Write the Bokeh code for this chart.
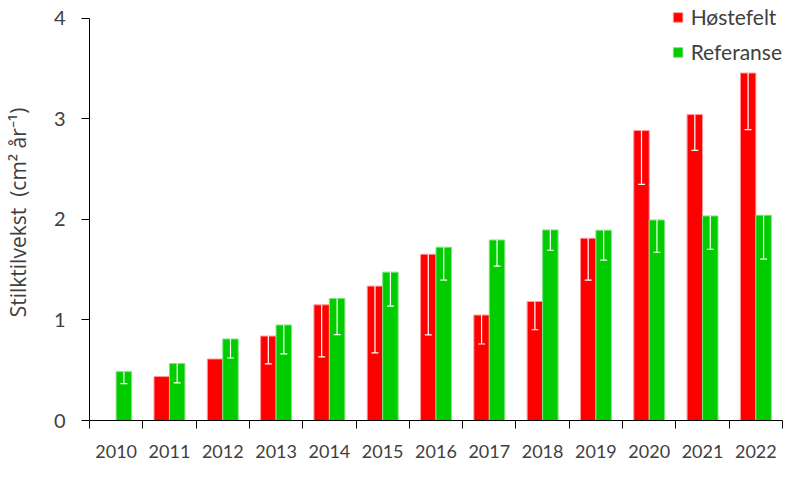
import numpy as np
from bokeh.plotting import figure
from bokeh.models import (ColumnDataSource, FixedTicker, Whisker, TeeHead, Legend, LegendItem,
                          Range1d)
from bokeh.embed import file_html
from bokeh.resources import INLINE

years = ["2010", "2011", "2012", "2013", "2014", "2015", "2016",
         "2017", "2018", "2019", "2020", "2021", "2022"]
hostefelt = [np.nan, 0.437, 0.612, 0.84, 1.151, 1.337, 1.654, 1.049, 1.184, 1.813, 2.885, 3.044, 3.457]
hostefelt_err = [np.nan, np.nan, np.nan, 0.277, 0.518, 0.665, 0.803, 0.288, 0.281, 0.417, 0.536, 0.357, 0.562]
referanse = [0.486, 0.566, 0.811, 0.95, 1.214, 1.476, 1.724, 1.796, 1.896, 1.893, 1.995, 2.035, 2.042]
referanse_err = [0.119, 0.192, 0.189, 0.288, 0.36, 0.338, 0.327, 0.261, 0.202, 0.298, 0.321, 0.331, 0.437]
y_ticks = [0, 1, 2, 3, 4]

BW = 0.29
FONT = "Lato"
TXT = "#404040"

n = len(years)
centers = np.arange(n) + 0.5
h = np.array(hostefelt, dtype=float)
he = np.array(hostefelt_err, dtype=float)
r = np.array(referanse, dtype=float)
re_ = np.array(referanse_err, dtype=float)

src_h = ColumnDataSource(dict(x=centers - BW / 2, top=h, low=h - he))
src_r = ColumnDataSource(dict(x=centers + BW / 2, top=r, low=r - re_))

p = figure(width=785, height=478, output_backend="svg", toolbar_location=None,
           x_range=Range1d(0, n), y_range=Range1d(0, 4.139),
           min_border_left=84, min_border_right=3, min_border_top=4, min_border_bottom=58)
p.outline_line_color = None
p.grid.visible = False
p.background_fill_color = "white"

rh = p.vbar(x="x", top="top", bottom=0, width=BW, source=src_h,
            fill_color="#FF0000", line_color="#FF9999", line_width=1)
rr = p.vbar(x="x", top="top", bottom=0, width=BW, source=src_r,
            fill_color="#00CC00", line_color="#80E080", line_width=1)

for src in (src_h, src_r):
    w = Whisker(base="x", upper="top", lower="low", source=src, dimension="height",
                line_color="white", line_width=1.2, level="overlay",
                upper_head=None,
                lower_head=TeeHead(size=7, line_color="white", line_width=1.2))
    p.add_layout(w)

# x axis: labels at centers, ticks at boundaries
p.xaxis.ticker = FixedTicker(ticks=list(centers), minor_ticks=list(np.arange(n + 1)))
p.xaxis.major_label_overrides = {float(c): y for c, y in zip(centers, years)}
p.xaxis.major_tick_out = 0
p.xaxis.major_tick_in = 0
p.xaxis.minor_tick_out = 8
p.xaxis.minor_tick_in = 0
p.xaxis.minor_tick_line_color = "black"
p.xaxis.axis_line_color = "black"
p.xaxis.major_label_text_font = FONT
p.xaxis.major_label_text_font_size = "18px"
p.xaxis.major_label_text_color = TXT
p.xaxis.major_label_standoff = 16

# y axis
p.yaxis.ticker = FixedTicker(ticks=y_ticks, minor_ticks=[])
p.yaxis.bounds = (0, 4)
p.yaxis.major_tick_out = 8
p.yaxis.major_tick_in = 0
p.yaxis.axis_line_color = "black"
p.yaxis.major_tick_line_color = "black"
p.yaxis.major_label_text_font = FONT
p.yaxis.major_label_text_font_size = "20px"
p.yaxis.major_label_text_color = TXT
p.yaxis.major_label_standoff = 16
p.yaxis.axis_label = "Stilktilvekst \u00a0(cm\u00b2 år\u207b\u00b9)"
p.yaxis.axis_label_text_font = "Open Sans"
p.yaxis.axis_label_text_font_style = "normal"
p.yaxis.axis_label_text_font_size = "21px"
p.yaxis.axis_label_text_color = TXT
p.yaxis.axis_label_standoff = 19

legend = Legend(items=[LegendItem(label="Høstefelt", renderers=[rh]),
                       LegendItem(label="Referanse", renderers=[rr])],
                location="top_right", orientation="vertical",
                glyph_width=12, glyph_height=12, label_height=18, label_standoff=7,
                spacing=10, padding=2, margin=0,
                label_text_font=FONT, label_text_font_size="21px", label_text_color=TXT,
                background_fill_alpha=0, border_line_color=None)
p.add_layout(legend, "center")

open("out.html", "w").write(file_html(p, INLINE))
